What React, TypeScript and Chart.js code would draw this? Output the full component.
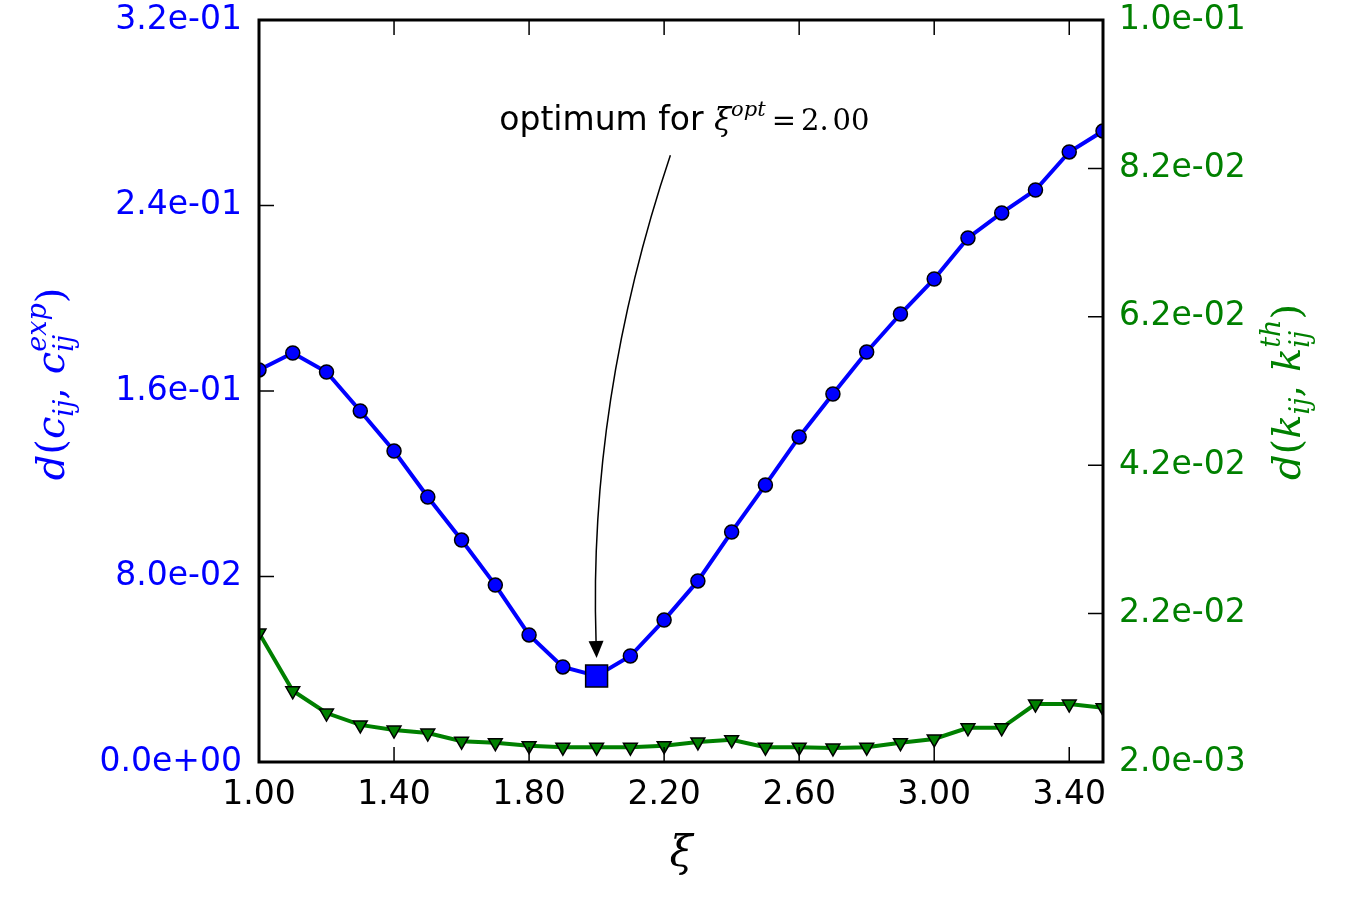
import React, { useEffect, useRef } from 'react';
import { Chart, registerables } from 'chart.js';
Chart.register(...registerables);

const xValues = [1.0, 1.1, 1.2, 1.3, 1.4, 1.5, 1.6, 1.7, 1.8, 1.9, 2.0, 2.1, 2.2, 2.3, 2.4, 2.5, 2.6, 2.7, 2.8, 2.9, 3.0, 3.1, 3.2, 3.3, 3.4, 3.5];
const blueValues = [0.1691, 0.1764, 0.1682, 0.1514, 0.1341, 0.1143, 0.0957, 0.0763, 0.0548, 0.0410, 0.0371, 0.0457, 0.0612, 0.0781, 0.0992, 0.1195, 0.1402, 0.1587, 0.1768, 0.1932, 0.2083, 0.2260, 0.2368, 0.2467, 0.2631, 0.2721];
const greenValues = [0.0194, 0.0116, 0.0086, 0.0070, 0.0063, 0.0059, 0.0048, 0.0046, 0.0042, 0.0040, 0.0040, 0.0040, 0.0042, 0.0047, 0.0050, 0.0040, 0.0040, 0.0039, 0.0040, 0.0046, 0.0051, 0.0066, 0.0066, 0.0098, 0.0098, 0.0093];
const xTicks = [1.0, 1.4, 1.8, 2.2, 2.6, 3.0, 3.4];
const leftTicks = [0, 0.08, 0.16, 0.24, 0.32];
const rightTicks = [0.002, 0.022, 0.042, 0.062, 0.082, 0.102];
const optimumX = 2.0;
const optimumY = 0.0371;
const annotationX = 2.26;
const annotationY = 0.2725;

const BLUE = '#0000ff';
const GREEN = '#008000';

function fmtExp(v: number): string {
  const s = Number(v).toExponential(1);
  const [m, e] = s.split('e');
  const sign = e[0] === '-' ? '-' : '+';
  const digits = e.replace(/[+-]/, '').padStart(2, '0');
  return `${m}e${sign}${digits}`;
}

type Seg = {
  t?: string;
  font?: string;
  dy?: number;
  sub?: string;
  sup?: string;
  sFont?: string;
  subDy?: number;
  supDy?: number;
  gap?: number;
};

function segW(ctx: CanvasRenderingContext2D, s: Seg): number {
  if (s.gap) return s.gap;
  if (s.sub !== undefined || s.sup !== undefined) {
    ctx.font = s.sFont || '';
    const a = s.sub ? ctx.measureText(s.sub).width : 0;
    const b = s.sup ? ctx.measureText(s.sup).width : 0;
    return Math.max(a, b);
  }
  ctx.font = s.font || '';
  return ctx.measureText(s.t || '').width;
}

function drawRich(ctx: CanvasRenderingContext2D, segs: Seg[], x: number, y: number, rot: number, color: string, align: 'center' | 'left') {
  ctx.save();
  ctx.translate(x, y);
  ctx.rotate(rot);
  ctx.fillStyle = color;
  ctx.textBaseline = 'alphabetic';
  ctx.textAlign = 'left';
  const widths = segs.map((s) => segW(ctx, s));
  const total = widths.reduce((a, b) => a + b, 0);
  let cx = align === 'center' ? -total / 2 : 0;
  segs.forEach((s, i) => {
    if (s.gap) {
      cx += s.gap;
      return;
    }
    if (s.sub !== undefined || s.sup !== undefined) {
      ctx.font = s.sFont || '';
      if (s.sub) ctx.fillText(s.sub, cx, s.subDy || 0);
      if (s.sup) ctx.fillText(s.sup, cx, s.supDy || 0);
    } else {
      ctx.font = s.font || '';
      ctx.fillText(s.t || '', cx, s.dy || 0);
    }
    cx += widths[i];
  });
  ctx.restore();
}

const decorPlugin = {
  id: 'decor',
  beforeDraw(chart: any) {
    const ctx = chart.ctx;
    ctx.save();
    ctx.fillStyle = '#ffffff';
    ctx.fillRect(0, 0, chart.width, chart.height);
    ctx.restore();
  },
  afterDatasetsDraw(chart: any) {
    const ctx: CanvasRenderingContext2D = chart.ctx;
    const a = chart.chartArea;
    const xs = chart.scales.x;
    const yl = chart.scales.y;
    const yr = chart.scales.y1;
    const TL = 15;
    ctx.save();
    ctx.strokeStyle = '#000';
    ctx.lineWidth = 1.5;
    ctx.beginPath();
    xTicks.forEach((v) => {
      const px = xs.getPixelForValue(v);
      ctx.moveTo(px, a.bottom);
      ctx.lineTo(px, a.bottom - TL);
      ctx.moveTo(px, a.top);
      ctx.lineTo(px, a.top + TL);
    });
    leftTicks.forEach((v) => {
      const py = yl.getPixelForValue(v);
      ctx.moveTo(a.left, py);
      ctx.lineTo(a.left + TL, py);
    });
    rightTicks.forEach((v) => {
      const py = yr.getPixelForValue(v);
      ctx.moveTo(a.right, py);
      ctx.lineTo(a.right - TL, py);
    });
    ctx.stroke();
    ctx.lineWidth = 3;
    ctx.strokeRect(a.left, a.top, a.right - a.left, a.bottom - a.top);

    // annotation arrow
    const tipX = xs.getPixelForValue(optimumX);
    const tipY = yl.getPixelForValue(optimumY) - 18;
    const tx = xs.getPixelForValue(annotationX);
    const ty = yl.getPixelForValue(annotationY);
    const sx = tx - 14;
    const sy = ty + 25;
    const mx = (sx + tipX) / 2;
    const my = (sy + tipY) / 2;
    const rad = -0.09;
    const cpx = mx + rad * (tipY - sy);
    const cpy = my - rad * (tipX - sx);
    const dirX = tipX - cpx;
    const dirY = tipY - cpy;
    const len = Math.hypot(dirX, dirY);
    const ux = dirX / len;
    const uy = dirY / len;
    const headL = 17;
    const headW = 7.5;
    const bx = tipX - ux * headL;
    const by = tipY - uy * headL;
    ctx.lineWidth = 1.5;
    ctx.beginPath();
    ctx.moveTo(sx, sy);
    ctx.quadraticCurveTo(cpx, cpy, bx, by);
    ctx.stroke();
    ctx.fillStyle = '#000';
    ctx.beginPath();
    ctx.moveTo(tipX, tipY);
    ctx.lineTo(bx - uy * headW, by + ux * headW);
    ctx.lineTo(bx + uy * headW, by - ux * headW);
    ctx.closePath();
    ctx.fill();
    ctx.restore();

    const serif = '"DejaVu Serif"';
    drawRich(ctx, [
      { t: 'optimum for ', font: '33px "DejaVu Sans"' },
      { t: 'ξ', font: `italic 31px ${serif}` },
      { t: 'opt', font: `italic 21px ${serif}`, dy: -14 },
      { gap: 6 },
      { t: '=', font: `29px ${serif}` },
      { gap: 5 },
      { t: '2.', font: `29px ${serif}` },
      { gap: 4 },
      { t: '00', font: `29px ${serif}` },
    ], tx, ty, 0, '#000', 'center');

    // x label
    drawRich(ctx, [{ t: 'ξ', font: `italic 42px ${serif}` }], (a.left + a.right) / 2, 866, 0, '#000', 'center');

    // left label
    const mi = `italic 40px ${serif}`;
    const mr = `40px ${serif}`;
    const si = `italic 27px ${serif}`;
    drawRich(ctx, [
      { t: 'd', font: mi },
      { t: '(', font: mr },
      { t: 'c', font: mi },
      { t: 'ij', font: si, dy: 9 },
      { t: ', ', font: mr },
      { t: 'c', font: mi },
      { sub: 'ij', sup: 'exp', sFont: si, subDy: 9, supDy: -18 },
      { t: ')', font: mr },
    ], 64, 384, -Math.PI / 2, BLUE, 'center');

    // right label
    drawRich(ctx, [
      { t: 'd', font: mi },
      { t: '(', font: mr },
      { t: 'k', font: mi },
      { t: 'ij', font: si, dy: 9 },
      { t: ', ', font: mr },
      { t: 'k', font: mi },
      { sub: 'ij', sup: 'th', sFont: si, subDy: 9, supDy: -20 },
      { t: ')', font: mr },
    ], 1300, 392, -Math.PI / 2, GREEN, 'center');
  },
};

function zeroPad(s: any) {
  s.paddingTop = 0;
  s.paddingBottom = 0;
  s.paddingLeft = 0;
  s.paddingRight = 0;
}

export default function App() {
  const ref = useRef<HTMLCanvasElement | null>(null);
  useEffect(() => {
    if (!ref.current) return;
    const tickFont = { family: '"DejaVu Sans"', size: 33 };
    const chart = new Chart(ref.current, {
      type: 'line',
      data: {
        datasets: [
          {
            label: 'green',
            data: xValues.map((x, i) => ({ x, y: greenValues[i] })),
            yAxisID: 'y1',
            borderColor: GREEN,
            borderWidth: 4,
            backgroundColor: GREEN,
            pointStyle: 'triangle',
            rotation: 180,
            pointRadius: 8,
            pointBorderColor: '#000',
            pointBorderWidth: 1.5,
            pointBackgroundColor: GREEN,
            tension: 0,
            clip: 0,
            order: 0,
          } as any,
          {
            label: 'blue',
            data: xValues.map((x, i) => ({ x, y: blueValues[i] })),
            yAxisID: 'y',
            borderColor: BLUE,
            borderWidth: 4,
            backgroundColor: BLUE,
            pointStyle: (c: any) => (xValues[c.dataIndex] === optimumX ? 'rect' : 'circle'),
            pointRadius: (c: any) => (xValues[c.dataIndex] === optimumX ? 15.5 : 7),
            pointBorderColor: '#000',
            pointBorderWidth: 1.5,
            pointBackgroundColor: BLUE,
            tension: 0,
            clip: 0,
            order: 1,
          } as any,
        ],
      },
      options: {
        animation: false,
        responsive: false,
        events: [],
        layout: { padding: { top: 20, left: 0, right: 0, bottom: 0 } },
        plugins: { legend: { display: false }, tooltip: { enabled: false }, title: { display: false } },
        scales: {
          x: {
            type: 'linear',
            position: 'bottom',
            min: 1.0,
            max: 3.5,
            grid: { display: false, drawTicks: false },
            border: { display: false },
            afterBuildTicks: (s: any) => { s.ticks = xTicks.map((v) => ({ value: v })); },
            afterFit: (s: any) => { s.height = 138; zeroPad(s); },
            ticks: {
              color: '#000',
              font: tickFont,
              padding: 14,
              autoSkip: false,
              maxRotation: 0,
              callback: (v: any) => Number(v).toFixed(2),
            },
          },
          y: {
            type: 'linear',
            position: 'left',
            min: 0,
            max: 0.32,
            grid: { display: false, drawTicks: false },
            border: { display: false },
            afterBuildTicks: (s: any) => { s.ticks = leftTicks.map((v) => ({ value: v })); },
            afterFit: (s: any) => { s.width = 259; zeroPad(s); },
            ticks: { color: BLUE, font: tickFont, padding: 17, autoSkip: false, callback: (v: any) => fmtExp(Number(v)) },
          },
          y1: {
            type: 'linear',
            position: 'right',
            min: 0.002,
            max: 0.102,
            grid: { display: false, drawTicks: false },
            border: { display: false },
            afterBuildTicks: (s: any) => { s.ticks = rightTicks.map((v) => ({ value: v })); },
            afterFit: (s: any) => { s.width = 247; zeroPad(s); },
            ticks: { color: GREEN, font: tickFont, padding: 16, autoSkip: false, callback: (v: any) => fmtExp(Number(v)) },
          },
        },
      } as any,
      plugins: [decorPlugin],
    });
    return () => chart.destroy();
  }, []);
  return (
    <div style={{ position: 'absolute', left: 0, top: 0, width: 1350, height: 900 }}>
      <canvas ref={ref} width={1350} height={900} style={{ width: 1350, height: 900, display: 'block' }} />
    </div>
  );
}
